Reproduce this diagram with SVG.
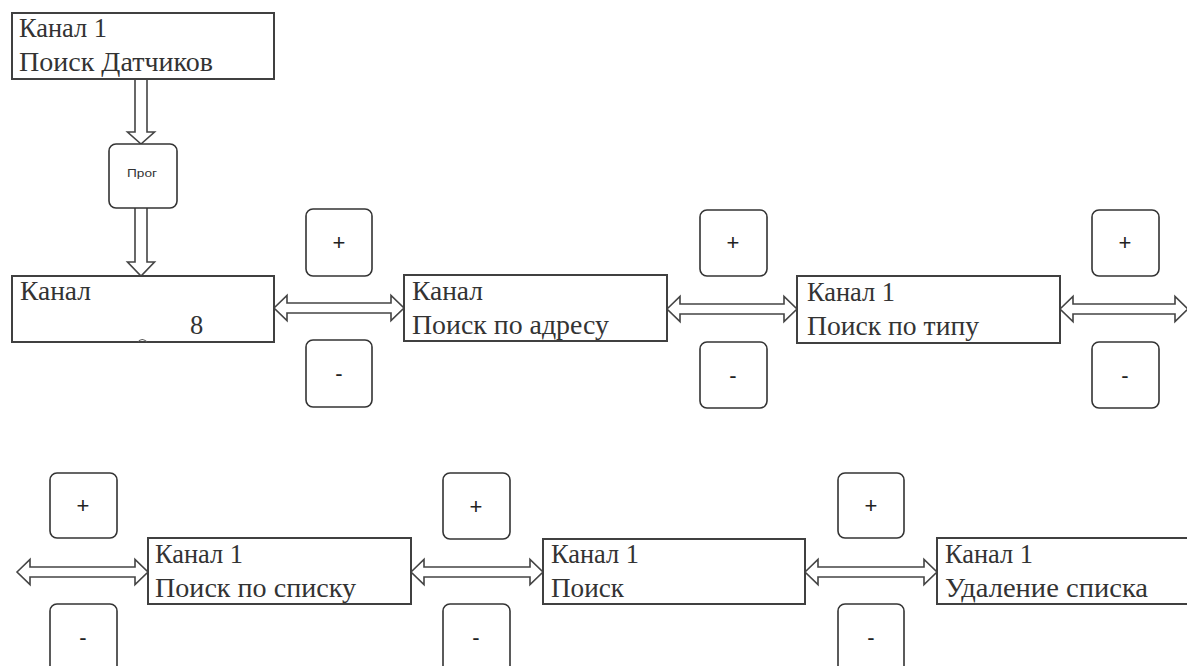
<svg xmlns="http://www.w3.org/2000/svg" width="1187" height="666" viewBox="0 0 1187 666">
<style>
.box{fill:#fff;stroke:#404040;stroke-width:2}
.btn{fill:#fff;stroke:#333;stroke-width:1.6}
.arr{fill:#fff;stroke:#444;stroke-width:1.6;stroke-linejoin:miter}
.t{font-family:"Liberation Serif","Times New Roman",serif;font-size:26.5px;fill:#333}
.s{font-family:"Liberation Sans",Arial,sans-serif;font-size:22px;fill:#222;text-anchor:middle}
.p{font-family:"Liberation Sans",Arial,sans-serif;font-size:10px;fill:#333;text-anchor:middle}
</style>
<rect width="1187" height="666" fill="#fff"/>
<g id="connectors">
<polygon class="arr" points="135,79 147,79 147,132 154.5,132 141,144 127.5,132 135,132"/>
<polygon class="arr" points="135,207 147,207 147,262 154.5,262 141,276 127.5,262 135,262"/>
<polygon class="arr" points="274,308 287,295.5 287,303 391,303 391,295.5 404,308 391,320.5 391,313 287,313 287,320.5"/>
<polygon class="arr" points="667,309 680,296.5 680,304 784,304 784,296.5 797,309 784,321.5 784,314 680,314 680,321.5"/>
<polygon class="arr" points="1060,309 1073,296.5 1073,304 1175,304 1175,296.5 1188,309 1175,321.5 1175,314 1073,314 1073,321.5"/>
<polygon class="arr" points="17,572 30,559.5 30,567 135,567 135,559.5 148,572 135,584.5 135,577 30,577 30,584.5"/>
<polygon class="arr" points="411,572 424,559.5 424,567 530,567 530,559.5 543,572 530,584.5 530,577 424,577 424,584.5"/>
<polygon class="arr" points="805,572 818,559.5 818,567 924,567 924,559.5 937,572 924,584.5 924,577 818,577 818,584.5"/>
</g>
<g id="n-top">
<rect class="box" x="12" y="13" width="262" height="66"/>
<text class="t" x="19" y="37" textLength="88" lengthAdjust="spacingAndGlyphs">Канал 1</text>
<text class="t" x="19" y="71" textLength="194" lengthAdjust="spacingAndGlyphs">Поиск Датчиков</text>
</g>
<g id="n-prog">
<rect class="btn" x="109" y="144" width="68" height="64" rx="7"/>
<text class="p" x="142" y="177" textLength="30" lengthAdjust="spacingAndGlyphs">Прог</text>
</g>
<g id="n-b1">
<rect class="box" x="12" y="276" width="262" height="66"/>
<text class="t" x="20" y="300" textLength="71" lengthAdjust="spacingAndGlyphs">Канал</text>
<text class="t" x="190" y="334">8</text>
<path d="M138,342 Q142,337 147,342" fill="none" stroke="#555" stroke-width="1.2"/>
</g>
<g id="n-p1"><rect class="btn" x="306" y="209" width="66" height="67" rx="7"/><text class="s" x="339" y="250">+</text></g>
<g id="n-m1"><rect class="btn" x="306" y="340" width="66" height="67" rx="7"/><text class="s" x="339" y="381">-</text></g>
<g id="n-b2">
<rect class="box" x="404" y="275" width="263" height="66"/>
<text class="t" x="412" y="300" textLength="71" lengthAdjust="spacingAndGlyphs">Канал</text>
<text class="t" x="412" y="334" textLength="197" lengthAdjust="spacingAndGlyphs">Поиск по адресу</text>
</g>
<g id="n-p2"><rect class="btn" x="700" y="210" width="67" height="66" rx="7"/><text class="s" x="733" y="250">+</text></g>
<g id="n-m2"><rect class="btn" x="700" y="342" width="67" height="66" rx="7"/><text class="s" x="733" y="383">-</text></g>
<g id="n-b3">
<rect class="box" x="797" y="276" width="263" height="67"/>
<text class="t" x="807" y="301" textLength="88" lengthAdjust="spacingAndGlyphs">Канал 1</text>
<text class="t" x="807" y="335" textLength="172" lengthAdjust="spacingAndGlyphs">Поиск по типу</text>
</g>
<g id="n-p3"><rect class="btn" x="1092" y="210" width="67" height="66" rx="7"/><text class="s" x="1125" y="250">+</text></g>
<g id="n-m3"><rect class="btn" x="1092" y="342" width="67" height="66" rx="7"/><text class="s" x="1125" y="383">-</text></g>
<g id="n-p4"><rect class="btn" x="50" y="473" width="67" height="65" rx="7"/><text class="s" x="83" y="513">+</text></g>
<g id="n-m4"><rect class="btn" x="50" y="604" width="67" height="70" rx="7"/><text class="s" x="83" y="645">-</text></g>
<g id="n-b4">
<rect class="box" x="148" y="538" width="263" height="66"/>
<text class="t" x="155" y="563" textLength="88" lengthAdjust="spacingAndGlyphs">Канал 1</text>
<text class="t" x="155" y="597" textLength="201" lengthAdjust="spacingAndGlyphs">Поиск по списку</text>
</g>
<g id="n-p5"><rect class="btn" x="443" y="473" width="67" height="66" rx="7"/><text class="s" x="476" y="514">+</text></g>
<g id="n-m5"><rect class="btn" x="443" y="604" width="67" height="70" rx="7"/><text class="s" x="476" y="645">-</text></g>
<g id="n-b5">
<rect class="box" x="543" y="539" width="262" height="65"/>
<text class="t" x="551" y="563" textLength="88" lengthAdjust="spacingAndGlyphs">Канал 1</text>
<text class="t" x="551" y="597" textLength="73" lengthAdjust="spacingAndGlyphs">Поиск</text>
</g>
<g id="n-p6"><rect class="btn" x="838" y="473" width="66" height="65" rx="7"/><text class="s" x="871" y="513">+</text></g>
<g id="n-m6"><rect class="btn" x="838" y="604" width="66" height="70" rx="7"/><text class="s" x="871" y="645">-</text></g>
<g id="n-b6">
<rect class="box" x="937" y="538" width="262" height="66"/>
<text class="t" x="945" y="563" textLength="88" lengthAdjust="spacingAndGlyphs">Канал 1</text>
<text class="t" x="945" y="597" textLength="203" lengthAdjust="spacingAndGlyphs">Удаление списка</text>
</g>
</svg>
